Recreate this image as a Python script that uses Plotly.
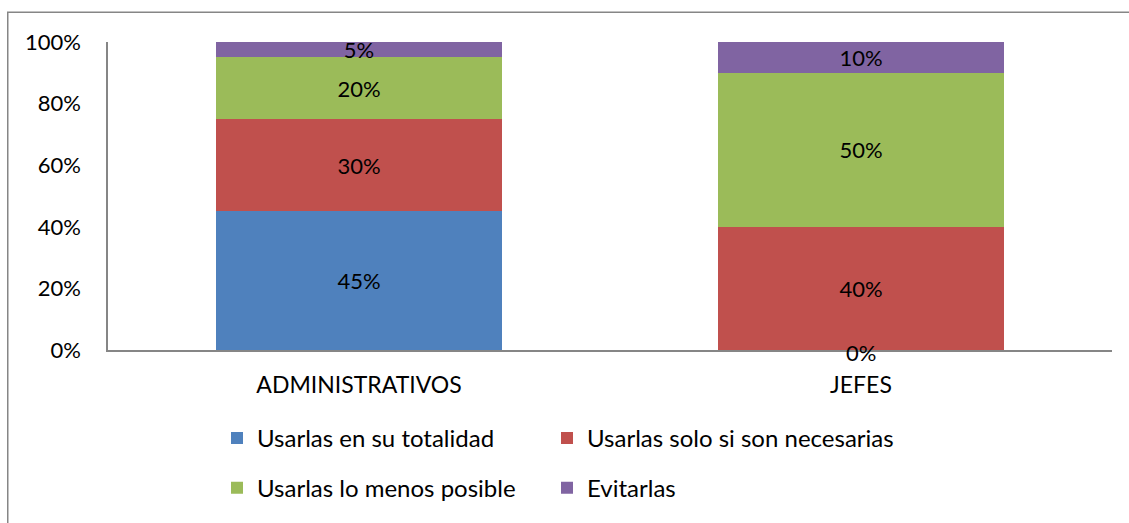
import plotly.graph_objects as go

categories = ["ADMINISTRATIVOS", "JEFES"]
series_names = ["Usarlas en su totalidad", "Usarlas solo si son necesarias",
                "Usarlas lo menos posible", "Evitarlas"]
totalidad = [45, 0]
necesarias = [30, 40]
menos_posible = [20, 50]
evitarlas = [5, 10]
y_ticks = [0, 20, 40, 60, 80, 100]

colors = ["#4F81BD", "#C0504D", "#9BBB59", "#8064A2"]
series = [totalidad, necesarias, menos_posible, evitarlas]

FONT = "Lato"
FS = 22
W, H = 1129, 523
L, R, T, B = 108, 17, 42, 171
pw, ph = W - L - R, H - T - B


def px_x(x):
    return (x - L) / pw


def px_y(y):
    return (T + ph - y) / ph


# one legend per entry so the 2x2 grid can be placed freely
legend_ids = ["legend", "legend2", "legend3", "legend4"]
legend_pos = [(217, 441), (547, 441), (217, 491), (547, 491)]

fig = go.Figure()
for name, vals, col, lg in zip(series_names, series, colors, legend_ids):
    fig.add_trace(go.Bar(
        x=categories,
        y=vals,
        name=name,
        marker_color=col,
        marker_line_width=0,
        text=[f"{v}%" if v > 0 else "" for v in vals],
        textposition="inside",
        insidetextanchor="middle",
        textangle=0,
        constraintext="none",
        textfont=dict(family=FONT, size=FS, color="black"),
        legend=lg,
        hoverinfo="skip",
    ))

# zero-height segments still get a label in the original
for name, vals in zip(series_names, series):
    for cat, v in zip(categories, vals):
        if v == 0:
            fig.add_annotation(x=cat, y=0, text=f"{v}%", showarrow=False,
                               yshift=-2, font=dict(family=FONT, size=FS, color="black"))

fig.add_shape(type="rect", xref="paper", yref="paper",
              x0=px_x(7.75), x1=px_x(1160), y0=px_y(560), y1=px_y(12),
              line=dict(color="#868686", width=1.5), fillcolor="rgba(0,0,0,0)")

legend_style = dict(orientation="h", xanchor="left", yanchor="middle",
                    font=dict(family=FONT, size=24, color="black"),
                    bgcolor="rgba(0,0,0,0)", itemclick=False, itemdoubleclick=False)
legend_layout = {lg: dict(x=px_x(x), y=px_y(y), **legend_style)
                 for lg, (x, y) in zip(legend_ids, legend_pos)}

fig.update_layout(
    width=W, height=H,
    margin=dict(l=L, r=R, t=T, b=B),
    barmode="stack",
    bargap=0.43,
    plot_bgcolor="white",
    paper_bgcolor="white",
    font=dict(family=FONT, size=FS, color="black"),
    showlegend=True,
    **legend_layout,
)
fig.update_xaxes(showline=True, linecolor="#868686", linewidth=1.5,
                 showgrid=False, ticks="", ticklabelstandoff=14,
                 tickfont=dict(size=23))
fig.update_yaxes(range=[0, 100], tickvals=y_ticks,
                 ticktext=[f"{v}%" for v in y_ticks],
                 showline=True, linecolor="#868686", linewidth=1.5,
                 showgrid=False, zeroline=False, ticks="", ticklabelstandoff=21)

# drop the default page margin so the figure fills the window exactly
fig.write_html("out.html", config={"displayModeBar": False},
               post_script="document.body.style.margin='0';document.body.style.overflow='hidden';")
